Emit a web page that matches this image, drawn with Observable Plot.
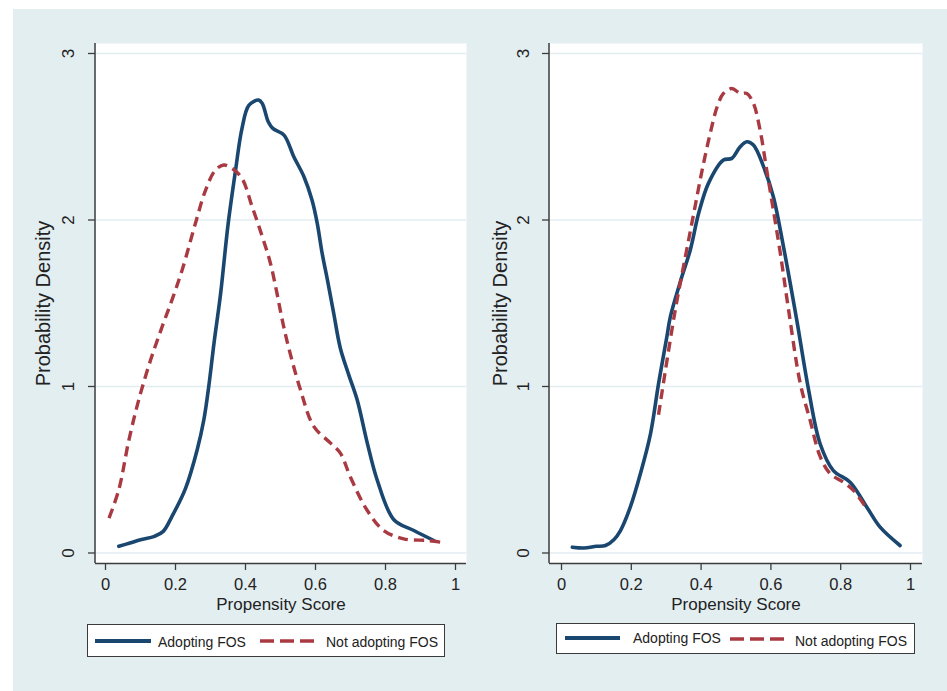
<!DOCTYPE html>
<html>
<head>
<meta charset="utf-8">
<script src="https://cdn.jsdelivr.net/npm/d3@7"></script>
<script src="https://cdn.jsdelivr.net/npm/@observablehq/plot@0.6"></script>
<style>
  body { margin: 0; background: #ffffff; font-family: "Liberation Sans", Arial, sans-serif; }
  #root { position: relative; width: 947px; height: 691px; overflow: hidden; }
  #bg { position: absolute; left: 13px; top: 9px; width: 934px; height: 682px; background: #e3eef1; }
  .panel { position: absolute; top: 0; }
  .legend { position: absolute; background: #ffffff; border: 1.5px solid #3a3a3a; box-sizing: border-box; }
  .legend .lbl { position: absolute; font-size: 14px; color: #222; white-space: nowrap; transform: translateY(-50%); }
  .legend svg { position: absolute; overflow: visible; }
</style>
</head>
<body>
<div id="root">
  <div id="bg"></div>
</div>
<script>
// ---- Data ----
const seriesNames = ["Adopting FOS", "Not adopting FOS"];
const xLabel = "Propensity Score";
const yLabel = "Probability Density";
const xTicks = [0, 0.2, 0.4, 0.6, 0.8, 1];
const yTicks = [0, 1, 2, 3];

// Left panel
const leftAdoptX = [0.038, 0.07, 0.10, 0.14, 0.165, 0.19, 0.229, 0.262, 0.281, 0.295, 0.31, 0.329, 0.35, 0.371, 0.39, 0.41, 0.438, 0.448, 0.465, 0.478, 0.51, 0.538, 0.567, 0.59, 0.605, 0.619, 0.635, 0.652, 0.671, 0.695, 0.719, 0.748, 0.776, 0.824, 0.881, 0.938];
const leftAdoptY = [0.04, 0.06, 0.08, 0.10, 0.13, 0.22, 0.39, 0.62, 0.80, 1.00, 1.26, 1.56, 1.97, 2.29, 2.55, 2.69, 2.72, 2.70, 2.59, 2.55, 2.51, 2.38, 2.26, 2.12, 1.98, 1.80, 1.63, 1.44, 1.23, 1.07, 0.92, 0.66, 0.44, 0.20, 0.135, 0.075];
const leftNotX = [0.01, 0.038, 0.067, 0.095, 0.129, 0.162, 0.19, 0.219, 0.257, 0.286, 0.314, 0.338, 0.362, 0.39, 0.419, 0.448, 0.47, 0.488, 0.503, 0.519, 0.557, 0.595, 0.643, 0.671, 0.70, 0.748, 0.795, 0.852, 0.919, 0.957];
const leftNotY = [0.21, 0.38, 0.68, 0.92, 1.16, 1.36, 1.52, 1.70, 1.98, 2.18, 2.30, 2.33, 2.31, 2.25, 2.08, 1.90, 1.75, 1.58, 1.42, 1.27, 0.98, 0.76, 0.66, 0.60, 0.455, 0.255, 0.135, 0.085, 0.075, 0.065];

// Right panel
const rightAdoptX = [0.031, 0.064, 0.10, 0.126, 0.15, 0.169, 0.197, 0.226, 0.255, 0.278, 0.302, 0.312, 0.345, 0.369, 0.393, 0.421, 0.464, 0.488, 0.512, 0.531, 0.55, 0.579, 0.607, 0.636, 0.674, 0.708, 0.741, 0.779, 0.827, 0.875, 0.913, 0.97];
const rightAdoptY = [0.035, 0.03, 0.04, 0.045, 0.08, 0.135, 0.275, 0.476, 0.716, 1.016, 1.30, 1.42, 1.66, 1.82, 2.04, 2.22, 2.36, 2.37, 2.44, 2.47, 2.45, 2.32, 2.14, 1.84, 1.40, 0.98, 0.656, 0.495, 0.425, 0.275, 0.155, 0.045];
const rightNotX = [0.278, 0.298, 0.326, 0.355, 0.379, 0.403, 0.426, 0.446, 0.464, 0.488, 0.512, 0.531, 0.55, 0.569, 0.588, 0.607, 0.627, 0.65, 0.684, 0.712, 0.741, 0.77, 0.808, 0.837, 0.875];
const rightNotY = [0.83, 1.10, 1.46, 1.78, 2.04, 2.30, 2.52, 2.68, 2.76, 2.79, 2.76, 2.76, 2.70, 2.54, 2.30, 2.06, 1.80, 1.47, 1.02, 0.80, 0.58, 0.476, 0.425, 0.375, 0.265];

// ---- Styling ----
const BLUE = "#1a476f";
const RED = "#a93a42";
const GRID = "#e3edf1";
const AXIS = "#3c3c3c";
const FONT = "'Liberation Sans', Arial, sans-serif";
const yDomain = [-0.0631, 3.060];

const zip = (xs, ys) => xs.map((x, i) => ({x, y: ys[i]}));

function panel({adopt, notAdopt, width, mL, mR, xDomain, yTitleDx, yTickPad}) {
  return Plot.plot({
    width, height: 620,
    marginLeft: mL, marginRight: mR, marginTop: 43, marginBottom: 57,
    style: {background: "transparent", fontFamily: FONT, color: "#222", overflow: "visible"},
    x: {domain: xDomain, axis: null},
    y: {domain: yDomain, axis: null},
    marks: [
      Plot.frame({fill: "white", stroke: null}),
      Plot.ruleY(yTicks, {stroke: GRID, strokeWidth: 1.6}),
      Plot.line(adopt, {x: "x", y: "y", stroke: BLUE, strokeWidth: 3.6, curve: "catmull-rom"}),
      Plot.line(notAdopt, {x: "x", y: "y", stroke: RED, strokeWidth: 3.4, strokeDasharray: "10,6", strokeLinecap: "butt", curve: "catmull-rom"}),
      Plot.ruleX([xDomain[0]], {stroke: AXIS, strokeWidth: 1.5, dx: -0.5}),
      Plot.ruleY([yDomain[0]], {stroke: AXIS, strokeWidth: 1.5}),
      Plot.axisY({ticks: yTicks, tickSize: 7, tickPadding: yTickPad, tickRotate: -90, textAnchor: "middle", fontSize: 17, label: null, stroke: AXIS, strokeWidth: 1.3, tickFormat: d => String(d)}),
      Plot.axisX({ticks: xTicks, tickSize: 7, tickPadding: 8, fontSize: 16.5, label: null, stroke: AXIS, strokeWidth: 1.3, tickFormat: d => String(d)}),
      Plot.text([xLabel], {frameAnchor: "bottom", dy: 41.5, text: d => d, fontSize: 17, lineAnchor: "middle"}),
      Plot.text([yLabel], {frameAnchor: "left", dx: yTitleDx, text: d => d, fontSize: 20, rotate: -90, lineAnchor: "middle", textAnchor: "middle"})
    ]
  });
}

const root = document.getElementById("root");

function addPanel(svg, left) {
  const wrap = document.createElement("div");
  wrap.className = "panel";
  wrap.style.left = left + "px";
  wrap.appendChild(svg);
  root.appendChild(wrap);
}

addPanel(panel({
  adopt: zip(leftAdoptX, leftAdoptY), notAdopt: zip(leftNotX, leftNotY),
  width: 470, mL: 95, mR: 4, xDomain: [-0.02857, 1.03143], yTitleDx: -52, yTickPad: 15
}), 0);

addPanel(panel({
  adopt: zip(rightAdoptX, rightAdoptY), notAdopt: zip(rightNotX, rightNotY),
  width: 477, mL: 79, mR: 25, xDomain: [-0.0344, 1.0344], yTitleDx: -49, yTickPad: 13.5
}), 470);

function addLegend(box, items) {
  const lg = document.createElement("div");
  lg.className = "legend";
  Object.assign(lg.style, {left: box.x + "px", top: box.y + "px", width: box.w + "px", height: box.h + "px"});
  items.forEach((it, i) => {
    const ns = "http://www.w3.org/2000/svg";
    const s = document.createElementNS(ns, "svg");
    s.setAttribute("width", it.x2 - it.x1);
    s.setAttribute("height", 6);
    s.style.left = it.x1 + "px";
    s.style.top = (it.y - 3) + "px";
    const ln = document.createElementNS(ns, "line");
    ln.setAttribute("x1", 0); ln.setAttribute("x2", it.x2 - it.x1);
    ln.setAttribute("y1", 3); ln.setAttribute("y2", 3);
    ln.setAttribute("stroke", i === 0 ? BLUE : RED);
    ln.setAttribute("stroke-width", i === 0 ? 4 : 3.6);
    if (i === 1) ln.setAttribute("stroke-dasharray", "14,6");
    s.appendChild(ln);
    lg.appendChild(s);
    const t = document.createElement("div");
    t.className = "lbl";
    t.textContent = seriesNames[i];
    t.style.left = it.tx + "px";
    t.style.top = it.ty + "px";
    lg.appendChild(t);
  });
  root.appendChild(lg);
}

addLegend({x: 87, y: 624, w: 358, h: 33}, [
  {x1: 7, x2: 63, y: 16, tx: 70, ty: 17},
  {x1: 172, x2: 226, y: 16, tx: 238, ty: 17}
]);
addLegend({x: 556, y: 623, w: 359, h: 31}, [
  {x1: 8, x2: 63, y: 14, tx: 76, ty: 14},
  {x1: 173, x2: 227, y: 15, tx: 238, ty: 17}
]);
</script>
</body>
</html>
